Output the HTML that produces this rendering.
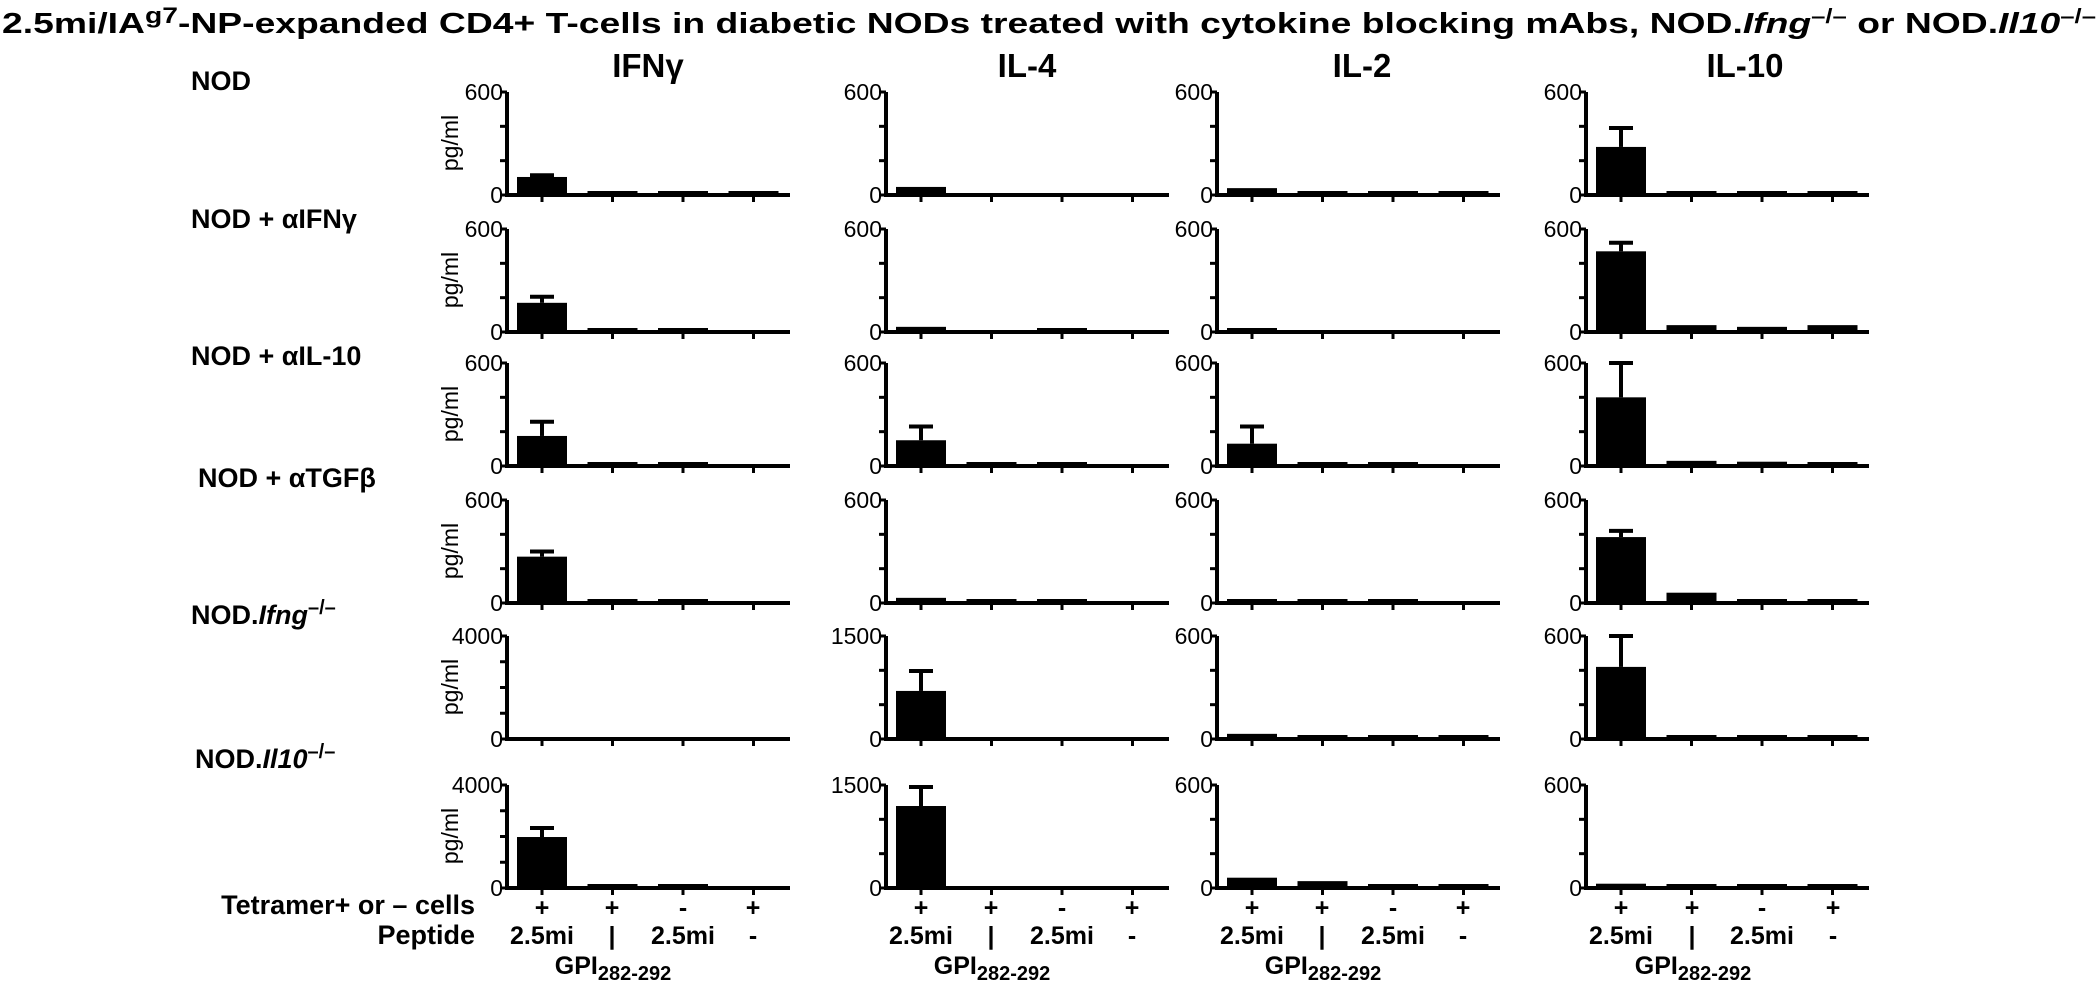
<!DOCTYPE html>
<html><head><meta charset="utf-8"><style>
html,body{margin:0;padding:0;background:#fff;}
svg{display:block;}
text{font-family:"Liberation Sans Narrow","Liberation Sans",sans-serif;fill:#000;}
.b{font-weight:bold;}
.t{font-size:23px;}
</style></head><body>
<svg id="s" width="2100" height="982" viewBox="0 0 2100 982" xmlns="http://www.w3.org/2000/svg">
<text x="2" y="33" class="b" font-size="29" textLength="2094" lengthAdjust="spacingAndGlyphs">2.5mi/IA<tspan font-size="22" dy="-10">g7</tspan><tspan dy="10">-NP-expanded CD4+ T-cells in diabetic NODs treated with cytokine blocking mAbs, NOD.</tspan><tspan font-style="italic">Ifng</tspan><tspan dy="-10" font-size="20">–/–</tspan><tspan dy="10"> or NOD.</tspan><tspan font-style="italic">Il10</tspan><tspan dy="-10" font-size="20">–/–</tspan></text>
<g class="b" font-size="33" text-anchor="middle">
<text x="648" y="77">IFNγ</text><text x="1027" y="77">IL-4</text><text x="1362" y="77">IL-2</text><text x="1745" y="77">IL-10</text>
</g>
<g class="b" font-size="27">
<text x="191" y="90">NOD</text>
<text x="191" y="228">NOD + αIFNγ</text>
<text x="191" y="365">NOD + αIL-10</text>
<text x="198" y="487">NOD + αTGFβ</text>
<text x="191" y="624">NOD.<tspan font-style="italic">Ifng</tspan><tspan font-size="20" dy="-10">–/–</tspan></text>
<text x="195" y="768">NOD.<tspan font-style="italic">Il10</tspan><tspan font-size="20" dy="-10">–/–</tspan></text>
<text x="475" y="914" text-anchor="end">Tetramer+ or – cells</text>
<text x="475" y="944" text-anchor="end">Peptide</text>
</g>
<g class="t" text-anchor="middle">
<text transform="translate(458,143) rotate(-90)">pg/ml</text>
<text transform="translate(458,280) rotate(-90)">pg/ml</text>
<text transform="translate(458,414) rotate(-90)">pg/ml</text>
<text transform="translate(458,551) rotate(-90)">pg/ml</text>
<text transform="translate(458,687) rotate(-90)">pg/ml</text>
<text transform="translate(458,836) rotate(-90)">pg/ml</text>
</g>
<g class="t" text-anchor="end">
<text x="503" y="100">600</text><text x="503" y="203">0</text>
<text x="882" y="100">600</text><text x="882" y="203">0</text>
<text x="1213" y="100">600</text><text x="1213" y="203">0</text>
<text x="1582" y="100">600</text><text x="1582" y="203">0</text>
<text x="503" y="237">600</text><text x="503" y="340">0</text>
<text x="882" y="237">600</text><text x="882" y="340">0</text>
<text x="1213" y="237">600</text><text x="1213" y="340">0</text>
<text x="1582" y="237">600</text><text x="1582" y="340">0</text>
<text x="503" y="371">600</text><text x="503" y="474">0</text>
<text x="882" y="371">600</text><text x="882" y="474">0</text>
<text x="1213" y="371">600</text><text x="1213" y="474">0</text>
<text x="1582" y="371">600</text><text x="1582" y="474">0</text>
<text x="503" y="508">600</text><text x="503" y="611">0</text>
<text x="882" y="508">600</text><text x="882" y="611">0</text>
<text x="1213" y="508">600</text><text x="1213" y="611">0</text>
<text x="1582" y="508">600</text><text x="1582" y="611">0</text>
<text x="503" y="644">4000</text><text x="503" y="747">0</text>
<text x="882" y="644">1500</text><text x="882" y="747">0</text>
<text x="1213" y="644">600</text><text x="1213" y="747">0</text>
<text x="1582" y="644">600</text><text x="1582" y="747">0</text>
<text x="503" y="793">4000</text><text x="503" y="896">0</text>
<text x="882" y="793">1500</text><text x="882" y="896">0</text>
<text x="1213" y="793">600</text><text x="1213" y="896">0</text>
<text x="1582" y="793">600</text><text x="1582" y="896">0</text>
</g>
<g class="b" font-size="25" text-anchor="middle">
<text x="542" y="916">+</text><text x="612" y="916">+</text><text x="683" y="916">-</text><text x="753" y="916">+</text>
<text x="542" y="944">2.5mi</text><text x="612" y="944">|</text><text x="683" y="944">2.5mi</text><text x="753" y="944">-</text>
<text x="613" y="974">GPI<tspan font-size="20" dy="6">282-292</tspan></text>
<text x="921" y="916">+</text><text x="991" y="916">+</text><text x="1062" y="916">-</text><text x="1132" y="916">+</text>
<text x="921" y="944">2.5mi</text><text x="991" y="944">|</text><text x="1062" y="944">2.5mi</text><text x="1132" y="944">-</text>
<text x="992" y="974">GPI<tspan font-size="20" dy="6">282-292</tspan></text>
<text x="1252" y="916">+</text><text x="1322" y="916">+</text><text x="1393" y="916">-</text><text x="1463" y="916">+</text>
<text x="1252" y="944">2.5mi</text><text x="1322" y="944">|</text><text x="1393" y="944">2.5mi</text><text x="1463" y="944">-</text>
<text x="1323" y="974">GPI<tspan font-size="20" dy="6">282-292</tspan></text>
<text x="1621" y="916">+</text><text x="1692" y="916">+</text><text x="1762" y="916">-</text><text x="1833" y="916">+</text>
<text x="1621" y="944">2.5mi</text><text x="1692" y="944">|</text><text x="1762" y="944">2.5mi</text><text x="1833" y="944">-</text>
<text x="1693" y="974">GPI<tspan font-size="20" dy="6">282-292</tspan></text>
</g>
<g id="shapes"></g>
</svg>
<script>
(function(){
var NS="http://www.w3.org/2000/svg",g=document.getElementById("shapes");
function el(n,a){var e=document.createElementNS(NS,n);for(var k in a)e.setAttribute(k,a[k]);g.appendChild(e);}
var axes=[507,886,1217,1586];
var rows=[[92,195],[229,332],[363,466],[500,603],[636,739],[785,888]];
var maxes=[[600,600,600,600],[600,600,600,600],[600,600,600,600],[600,600,600,600],[4000,1500,600,600],[4000,1500,600,600]];
var data=[
 [[[105,115],[15],[10],[10]],[[47],[0],[0],[0]],[[40],[10],[12],[8]],[[280,390],[12],[15],[12]]],
 [[[170,205],[10],[5],[0]],[[30],[0],[8],[0]],[[5],[0],[0],[0]],[[470,520],[40],[30],[40]]],
 [[[175,258],[5],[5],[0]],[[150,230],[5],[20],[0]],[[130,230],[10],[20],[0]],[[400,600],[30],[25],[15]]],
 [[[270,300],[20],[10],[0]],[[30],[10],[10],[0]],[[20],[10],[10],[0]],[[384,420],[60],[20],[10]]],
 [[[0],[0],[0],[0]],[[700,990],[0],[0],[0]],[[30],[15],[20],[5]],[[420,600],[10],[5],[5]]],
 [[[1980,2330],[30],[20],[0]],[[1194,1470],[0],[0],[0]],[[60],[40],[15],[10]],[[25],[15],[20],[15]]]
];
for(var r=0;r<6;r++){var top=rows[r][0],z=rows[r][1],h=z-top;
 for(var c=0;c<4;c++){var ax=axes[c],mx=maxes[r][c];
  var nt=(mx==4000)?4:3;
  for(var i=0;i<4;i++){var cx=ax+35+i*70.5,d=data[r][c][i],v=d[0];
   var bh=v/mx*h; if(v>0&&bh<4)bh=4;
   if(bh>0.5) el("rect",{x:cx-25,y:z-bh,width:50,height:bh,fill:"#000"});
   if(d.length>1){var ey=z-d[1]/mx*h;el("line",{x1:cx,y1:ey,x2:cx,y2:z-bh,stroke:"#000","stroke-width":4});
    el("line",{x1:cx-12,y1:ey,x2:cx+12,y2:ey,stroke:"#000","stroke-width":4});}
   el("line",{x1:cx,y1:z,x2:cx,y2:z+7,stroke:"#000","stroke-width":3});
  }
  el("line",{x1:ax,y1:top,x2:ax,y2:z+2,stroke:"#000","stroke-width":4});
  el("line",{x1:ax-2,y1:z,x2:ax+283,y2:z,stroke:"#000","stroke-width":4});
  for(var k=0;k<=nt;k++){var yy=z-k*h/nt;el("line",{x1:ax-7,y1:yy,x2:ax,y2:yy,stroke:"#000","stroke-width":3});}
 }}
})();
</script>
</body></html>
